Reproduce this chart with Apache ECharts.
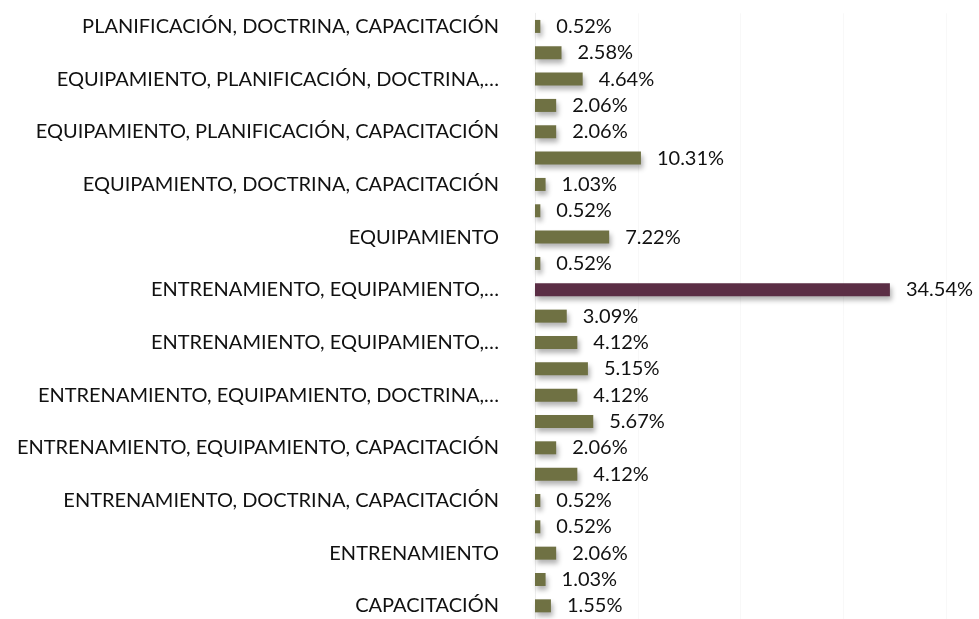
<!DOCTYPE html>
<html>
<head>
<meta charset="utf-8">
<script src="https://cdn.jsdelivr.net/npm/echarts@6/dist/echarts.min.js"></script>
<style>
  html, body { margin: 0; padding: 0; background: #fff; }
  #main { width: 979px; height: 619px; }
</style>
</head>
<body>
<div id="main"></div>
<script>
// categories from bottom to top (every second label is shown on the axis)
let categories = [
    "CAPACITACIÓN",
    "DOCTRINA",
    "ENTRENAMIENTO",
    "ENTRENAMIENTO, CAPACITACIÓN",
    "ENTRENAMIENTO, DOCTRINA, CAPACITACIÓN",
    "ENTRENAMIENTO, EQUIPAMIENTO",
    "ENTRENAMIENTO, EQUIPAMIENTO, CAPACITACIÓN",
    "ENTRENAMIENTO, EQUIPAMIENTO, DOCTRINA",
    "ENTRENAMIENTO, EQUIPAMIENTO, DOCTRINA,…",
    "ENTRENAMIENTO, EQUIPAMIENTO, PLANIFICACIÓN",
    "ENTRENAMIENTO, EQUIPAMIENTO,…",
    "ENTRENAMIENTO, EQUIPAMIENTO, PLANIFICACIÓN, DOCTRINA",
    "ENTRENAMIENTO, EQUIPAMIENTO,…",
    "ENTRENAMIENTO, PLANIFICACIÓN",
    "EQUIPAMIENTO",
    "EQUIPAMIENTO, CAPACITACIÓN",
    "EQUIPAMIENTO, DOCTRINA, CAPACITACIÓN",
    "EQUIPAMIENTO, PLANIFICACIÓN",
    "EQUIPAMIENTO, PLANIFICACIÓN, CAPACITACIÓN",
    "EQUIPAMIENTO, PLANIFICACIÓN, DOCTRINA",
    "EQUIPAMIENTO, PLANIFICACIÓN, DOCTRINA,…",
    "PLANIFICACIÓN",
    "PLANIFICACIÓN, DOCTRINA, CAPACITACIÓN"
];
let percentages = [1.55, 1.03, 2.06, 0.52, 0.52, 4.12, 2.06, 5.67, 4.12, 5.15, 4.12, 3.09,
    34.54, 0.52, 7.22, 0.52, 1.03, 10.31, 2.06, 2.06, 4.64, 2.58, 0.52];
let highlightIndex = 12;

let olive = "#6f7143";
let plum = "#5b2e45";
let fontName = "Lato";

let barData = percentages.map(function (v, i) {
    return {
        value: v,
        itemStyle: { color: i === highlightIndex ? plum : olive }
    };
});

let myChart = echarts.init(document.getElementById("main"));

let option = {
    animation: false,
    backgroundColor: "#fff",
    grid: {
        left: 535,
        right: 33,
        top: 13.25,
        bottom: -3.75,
        containLabel: false
    },
    xAxis: {
        type: "value",
        min: 0,
        max: 40,
        interval: 10,
        axisLabel: { show: false },
        axisLine: { show: false },
        axisTick: { show: false },
        splitLine: { lineStyle: { color: "#f8f8f8", width: 1 } }
    },
    yAxis: {
        type: "category",
        data: categories,
        axisLine: { show: true, lineStyle: { color: "#ededed" } },
        axisTick: { show: false },
        axisLabel: {
            interval: 1,
            margin: 36,
            fontFamily: fontName,
            fontSize: 20,
            color: "#111"
        }
    },
    series: [
        {
            type: "bar",
            data: barData,
            barWidth: 13,
            itemStyle: {
                shadowColor: "rgba(0,0,0,0.3)",
                shadowBlur: 5,
                shadowOffsetX: 2,
                shadowOffsetY: 4
            },
            label: {
                show: true,
                position: "right",
                distance: 16,
                fontFamily: fontName,
                fontSize: 20,
                color: "#111",
                formatter: function (p) { return p.value.toFixed(2) + "%"; }
            }
        }
    ]
};

myChart.setOption(option);
</script>
</body>
</html>
